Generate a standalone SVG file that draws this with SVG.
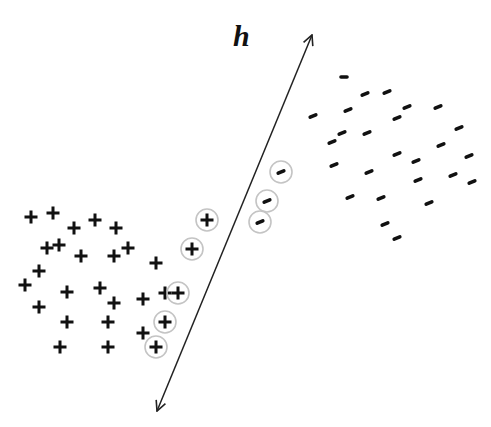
<svg xmlns="http://www.w3.org/2000/svg" width="491" height="427" viewBox="0 0 491 427">
<style>
.p{stroke:#111;stroke-width:3;fill:none}
.m{stroke:#111;stroke-width:3.6;stroke-linecap:round;fill:none}
.c{fill:none;stroke:#c4c4c4;stroke-width:1.6}
.ax{stroke:#222;stroke-width:1.5;fill:none}
</style>
<defs>
<symbol id="plus" overflow="visible"><path class="p" d="M-6.5,0H6.5M0,-6.5V6.5"/></symbol>
<symbol id="minus" overflow="visible"><path class="m" d="M-2.8,1.2L2.8,-1.2"/></symbol>
<marker id="ah" viewBox="0 0 12 12" refX="11" refY="6" markerWidth="12" markerHeight="12" markerUnits="userSpaceOnUse" orient="auto-start-reverse">
<path d="M1,1L11,6L1,11" fill="none" stroke="#222" stroke-width="1.6"/>
</marker>
</defs>
<rect width="491" height="427" fill="#fff"/>
<g id="connectors">
<line class="ax" x1="157" y1="411" x2="312" y2="35" marker-start="url(#ah)" marker-end="url(#ah)"/>
</g>
<g id="label-h"><text x="233" y="46" font-family="Liberation Serif, serif" font-style="italic" font-weight="bold" font-size="30" fill="#111">h</text></g>
<g id="plus-class">
<use href="#plus" x="31" y="217"/><use href="#plus" x="53" y="213"/><use href="#plus" x="74" y="228"/>
<use href="#plus" x="95" y="220"/><use href="#plus" x="116" y="228"/><use href="#plus" x="47" y="248"/>
<use href="#plus" x="59" y="245"/><use href="#plus" x="81" y="256"/><use href="#plus" x="114" y="256"/>
<use href="#plus" x="128" y="248"/><use href="#plus" x="156" y="263"/><use href="#plus" x="39" y="271"/>
<use href="#plus" x="25" y="285"/><use href="#plus" x="67" y="292"/><use href="#plus" x="100" y="288"/>
<use href="#plus" x="114" y="303"/><use href="#plus" x="143" y="299"/><use href="#plus" x="39" y="307"/>
<use href="#plus" x="67" y="322"/><use href="#plus" x="108" y="322"/><use href="#plus" x="143" y="333"/>
<use href="#plus" x="60" y="347"/><use href="#plus" x="108" y="347"/><use href="#plus" x="165" y="293"/>
</g>
<g id="plus-support">
<circle class="c" cx="207" cy="220" r="11"/><use href="#plus" x="207" y="220"/>
<circle class="c" cx="192" cy="249" r="11"/><use href="#plus" x="192" y="249"/>
<circle class="c" cx="178" cy="293" r="11"/><use href="#plus" x="178" y="293"/>
<circle class="c" cx="165" cy="322" r="11"/><use href="#plus" x="165" y="322"/>
<circle class="c" cx="156" cy="347" r="11"/><use href="#plus" x="156" y="347"/>
</g>
<g id="minus-support">
<circle class="c" cx="281" cy="172" r="11"/><use href="#minus" x="281" y="172"/>
<circle class="c" cx="267" cy="201" r="11"/><use href="#minus" x="267" y="201"/>
<circle class="c" cx="260" cy="222" r="11"/><use href="#minus" x="260" y="222"/>
</g>
<g id="minus-class">
<path class="m" d="M341,77H347"/>
<use href="#minus" x="365" y="94"/><use href="#minus" x="387" y="92"/><use href="#minus" x="313" y="116"/>
<use href="#minus" x="348" y="110"/><use href="#minus" x="407" y="107"/><use href="#minus" x="438" y="107"/>
<use href="#minus" x="397" y="118"/><use href="#minus" x="342" y="133"/><use href="#minus" x="367" y="133"/>
<use href="#minus" x="332" y="142"/><use href="#minus" x="459" y="128"/><use href="#minus" x="441" y="145"/>
<use href="#minus" x="397" y="154"/><use href="#minus" x="416" y="161"/><use href="#minus" x="469" y="156"/>
<use href="#minus" x="334" y="165"/><use href="#minus" x="369" y="172"/><use href="#minus" x="418" y="180"/>
<use href="#minus" x="453" y="175"/><use href="#minus" x="472" y="182"/><use href="#minus" x="350" y="197"/>
<use href="#minus" x="381" y="198"/><use href="#minus" x="429" y="203"/><use href="#minus" x="385" y="224"/>
<use href="#minus" x="397" y="238"/>
</g>
</svg>
